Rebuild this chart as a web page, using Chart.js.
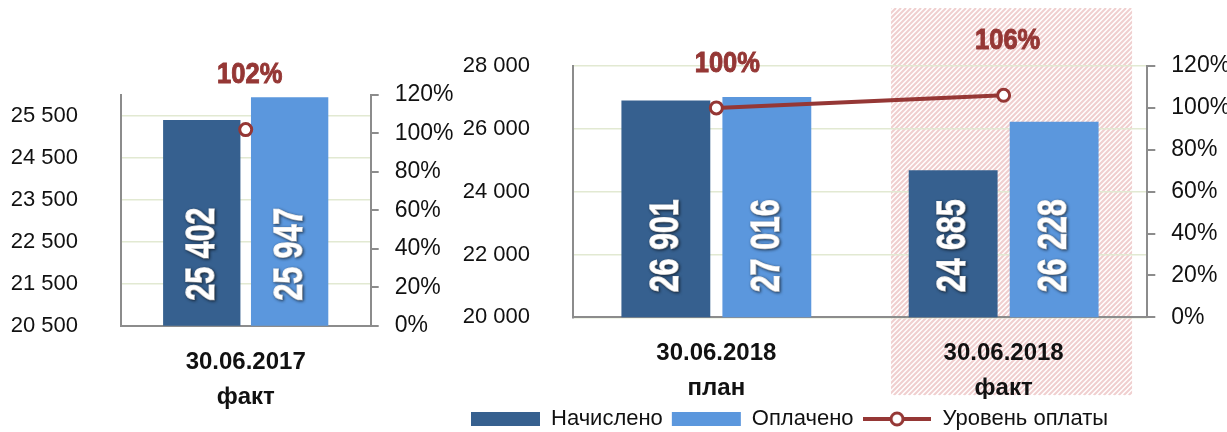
<!DOCTYPE html>
<html>
<head>
<meta charset="utf-8">
<script src="https://cdn.jsdelivr.net/npm/chart.js@4.4.0/dist/chart.umd.min.js"></script>
<style>
  html, body { margin: 0; padding: 0; background: #fff; }
  #wrap { position: relative; width: 1227px; height: 432px; overflow: hidden; }
  #left { position: absolute; left: 0; top: 0; width: 462px; height: 432px; }
  #right { position: absolute; left: 450px; top: 0; width: 777px; height: 432px; }
</style>
</head>
<body>
<div id="wrap">
  <div id="left"><canvas id="chart-2017"></canvas></div>
  <div id="right"><canvas id="chart-2018"></canvas></div>
</div>
<script>
// Начисления и оплата, 30.06.2017 факт / 30.06.2018 план и факт

var seriesNames = ['Начислено', 'Оплачено', 'Уровень оплаты'];

// левая панель
var labels2017 = [['30.06.2017', 'факт']];
var accrued2017 = [25402];
var paid2017 = [25947];
var level2017 = [102];
var ticks2017 = [20500, 21500, 22500, 23500, 24500, 25500];

// правая панель
var labels2018 = [['30.06.2018', 'план'], ['30.06.2018', 'факт']];
var accrued2018 = [26901, 24685];
var paid2018 = [27016, 26228];
var level2018 = [100, 106];
var ticks2018 = [20000, 22000, 24000, 26000, 28000];

var pctTicks = [0, 20, 40, 60, 80, 100, 120];

var DARK = '#36608f', LIGHT = '#5b97dd', RED = '#953735';
var AXIS = '#8c8c8c', GRID = '#e2e9d2';
var FONT = "'Liberation Sans', Arial, sans-serif";

Chart.defaults.font.family = FONT;
Chart.defaults.color = '#111';
Chart.defaults.animation = false;

function fmt(n) {
  return String(n).replace(/\B(?=(\d{3})+(?!\d))/g, ' ');
}

// value labels written upward inside the bars (condensed bold)
var barValues = {
  id: 'barValues',
  afterDatasetsDraw: function (chart) {
    var ctx = chart.ctx;
    var base = chart.chartArea.bottom;
    chart.data.datasets.forEach(function (ds, i) {
      if (ds.type === 'line') return;
      chart.getDatasetMeta(i).data.forEach(function (bar, j) {
        ctx.save();
        ctx.translate(bar.x, base - 25);
        ctx.rotate(-Math.PI / 2);
        ctx.scale(0.76, 1);
        ctx.font = 'bold 40px ' + FONT;
        ctx.fillStyle = '#fff';
        ctx.strokeStyle = '#fff';
        ctx.lineWidth = 1.4;
        ctx.textAlign = 'left';
        ctx.textBaseline = 'middle';
        ctx.shadowColor = 'rgba(0,0,0,0.55)';
        ctx.shadowBlur = 3;
        ctx.shadowOffsetX = 1;
        ctx.shadowOffsetY = 1;
        ctx.strokeText(fmt(ds.data[j]), 0, 1);
        ctx.fillText(fmt(ds.data[j]), 0, 1);
        ctx.restore();
      });
    });
  }
};

// % labels above the line points
var pctLabels = {
  id: 'pctLabels',
  afterDatasetsDraw: function (chart, args, opts) {
    var ctx = chart.ctx;
    chart.data.datasets.forEach(function (ds, i) {
      if (ds.type !== 'line') return;
      chart.getDatasetMeta(i).data.forEach(function (pt, j) {
        ctx.save();
        ctx.translate(pt.x + opts.shift[j], pt.y - opts.lift[j]);
        ctx.scale(0.85, 1);
        ctx.font = 'bold 30px ' + FONT;
        ctx.fillStyle = RED;
        ctx.strokeStyle = RED;
        ctx.lineWidth = 1;
        ctx.textAlign = 'center';
        ctx.textBaseline = 'middle';
        ctx.strokeText(ds.data[j] + '%', 0, 0);
        ctx.fillText(ds.data[j] + '%', 0, 0);
        ctx.restore();
      });
    });
  }
};

// hatched band behind the "факт" category
var hatch = {
  id: 'hatch',
  beforeDraw: function (chart, args, opts) {
    if (opts.index === null || opts.index === undefined) return;
    var x = chart.scales.x;
    var cw = x.width / x.ticks.length;
    var c = x.getPixelForValue(opts.index);
    var l = c - 0.392 * cw, r = c + 0.447 * cw;
    var t = 8, b = chart.chartArea.bottom + 78;
    var ctx = chart.ctx;
    ctx.save();
    ctx.beginPath();
    ctx.rect(l, t, r - l, b - t);
    ctx.clip();
    ctx.strokeStyle = '#f0cfcf';
    ctx.lineWidth = 2;
    ctx.beginPath();
    for (var s = l - (b - t); s < r + 5; s += 5) {
      ctx.moveTo(s, b);
      ctx.lineTo(s + (b - t), t);
    }
    ctx.stroke();
    ctx.restore();
  }
};

// legend icon for the line series
var lineIcon = document.createElement('canvas');
lineIcon.width = 68; lineIcon.height = 18;
(function () {
  var g = lineIcon.getContext('2d');
  g.strokeStyle = RED; g.lineWidth = 4;
  g.beginPath(); g.moveTo(0, 9); g.lineTo(68, 9); g.stroke();
  g.beginPath(); g.arc(34, 9, 6, 0, 2 * Math.PI);
  g.fillStyle = '#fff'; g.fill(); g.lineWidth = 3; g.stroke();
})();

function datasets(acc, paid, lvl) {
  return [
    { label: seriesNames[0], data: acc, backgroundColor: DARK, yAxisID: 'y', order: 1,
      categoryPercentage: 0.703, barPercentage: 0.88 },
    { label: seriesNames[1], data: paid, backgroundColor: LIGHT, yAxisID: 'y', order: 1,
      categoryPercentage: 0.703, barPercentage: 0.88 },
    { type: 'line', label: seriesNames[2], data: lvl, yAxisID: 'y1', order: 0,
      borderColor: RED, borderWidth: 4, pointRadius: 6, pointBorderWidth: 3,
      pointBackgroundColor: '#fff', pointBorderColor: RED, tension: 0 }
  ];
}

function options(p) {
  return {
    responsive: true,
    maintainAspectRatio: false,
    layout: { padding: p.pad },
    plugins: {
      legend: p.legend ? {
        position: 'bottom',
        align: 'start',
        labels: {
          usePointStyle: true,
          pointStyleWidth: 69,
          boxHeight: 14,
          padding: 9,
          color: '#111',
          font: { size: 22 },
          generateLabels: function (chart) {
            var items = Chart.defaults.plugins.legend.labels.generateLabels(chart);
            items.sort(function (a, b) { return a.datasetIndex - b.datasetIndex; });
            items.forEach(function (it) {
              if (it.datasetIndex === 2) {
                it.pointStyle = lineIcon;
              } else {
                it.pointStyle = 'rect';
                it.lineWidth = 0;
              }
            });
            return items;
          }
        }
      } : { display: false },
      tooltip: { enabled: false },
      pctLabels: { lift: p.lift, shift: p.shift },
      hatch: { index: p.hatchIndex }
    },
    scales: {
      x: {
        grid: { display: false, drawTicks: false },
        border: { display: true, color: AXIS, width: 2 },
        ticks: { padding: 19, font: { size: 24, weight: 'bold', lineHeight: 1.45 }, color: '#111' },
        afterFit: function (s) { s.height = p.xHeight; }
      },
      y: {
        position: 'left',
        min: p.min, max: p.max,
        afterBuildTicks: function (s) { s.ticks = p.ticks.map(function (v) { return { value: v }; }); },
        grid: { color: GRID, lineWidth: 1.5, drawTicks: false },
        border: { display: true, color: AXIS, width: 2 },
        ticks: { padding: 42.7, font: { size: 22 }, color: '#111', callback: function (v) { return fmt(v); } },
        afterFit: function (s) { s.width = p.yWidth; }
      },
      y1: {
        position: 'right',
        min: 0, max: 120,
        afterBuildTicks: function (s) { s.ticks = pctTicks.map(function (v) { return { value: v }; }); },
        grid: { drawOnChartArea: false, drawTicks: true, tickLength: 8, color: AXIS, lineWidth: 2 },
        border: { display: true, color: AXIS, width: 2 },
        ticks: { padding: 16, font: { size: 23 }, color: '#111', callback: function (v) { return v + '%'; } },
        afterFit: function (s) { s.width = p.y1Width; }
      }
    }
  };
}

new Chart(document.getElementById('chart-2017'), {
  type: 'bar',
  data: { labels: labels2017, datasets: datasets(accrued2017, paid2017, level2017) },
  options: options({
    pad: { top: 95, left: 0, right: 0, bottom: 0 },
    min: 20500, max: 26000, ticks: ticks2017,
    yWidth: 120.7, y1Width: 91.3, xHeight: 106.3,
    lift: [55], shift: [4], legend: false, hatchIndex: null
  }),
  plugins: [barValues, pctLabels, hatch]
});

new Chart(document.getElementById('chart-2018'), {
  type: 'bar',
  data: { labels: labels2018, datasets: datasets(accrued2018, paid2018, level2018) },
  options: options({
    pad: { top: 66, left: 12, right: 0, bottom: -8 },
    min: 20000, max: 28000, ticks: ticks2018,
    yWidth: 110.7, y1Width: 79.7, xHeight: 81.7,
    lift: [44, 55], shift: [11, 4], legend: true, hatchIndex: 1
  }),
  plugins: [barValues, pctLabels, hatch]
});
</script>
</body>
</html>
